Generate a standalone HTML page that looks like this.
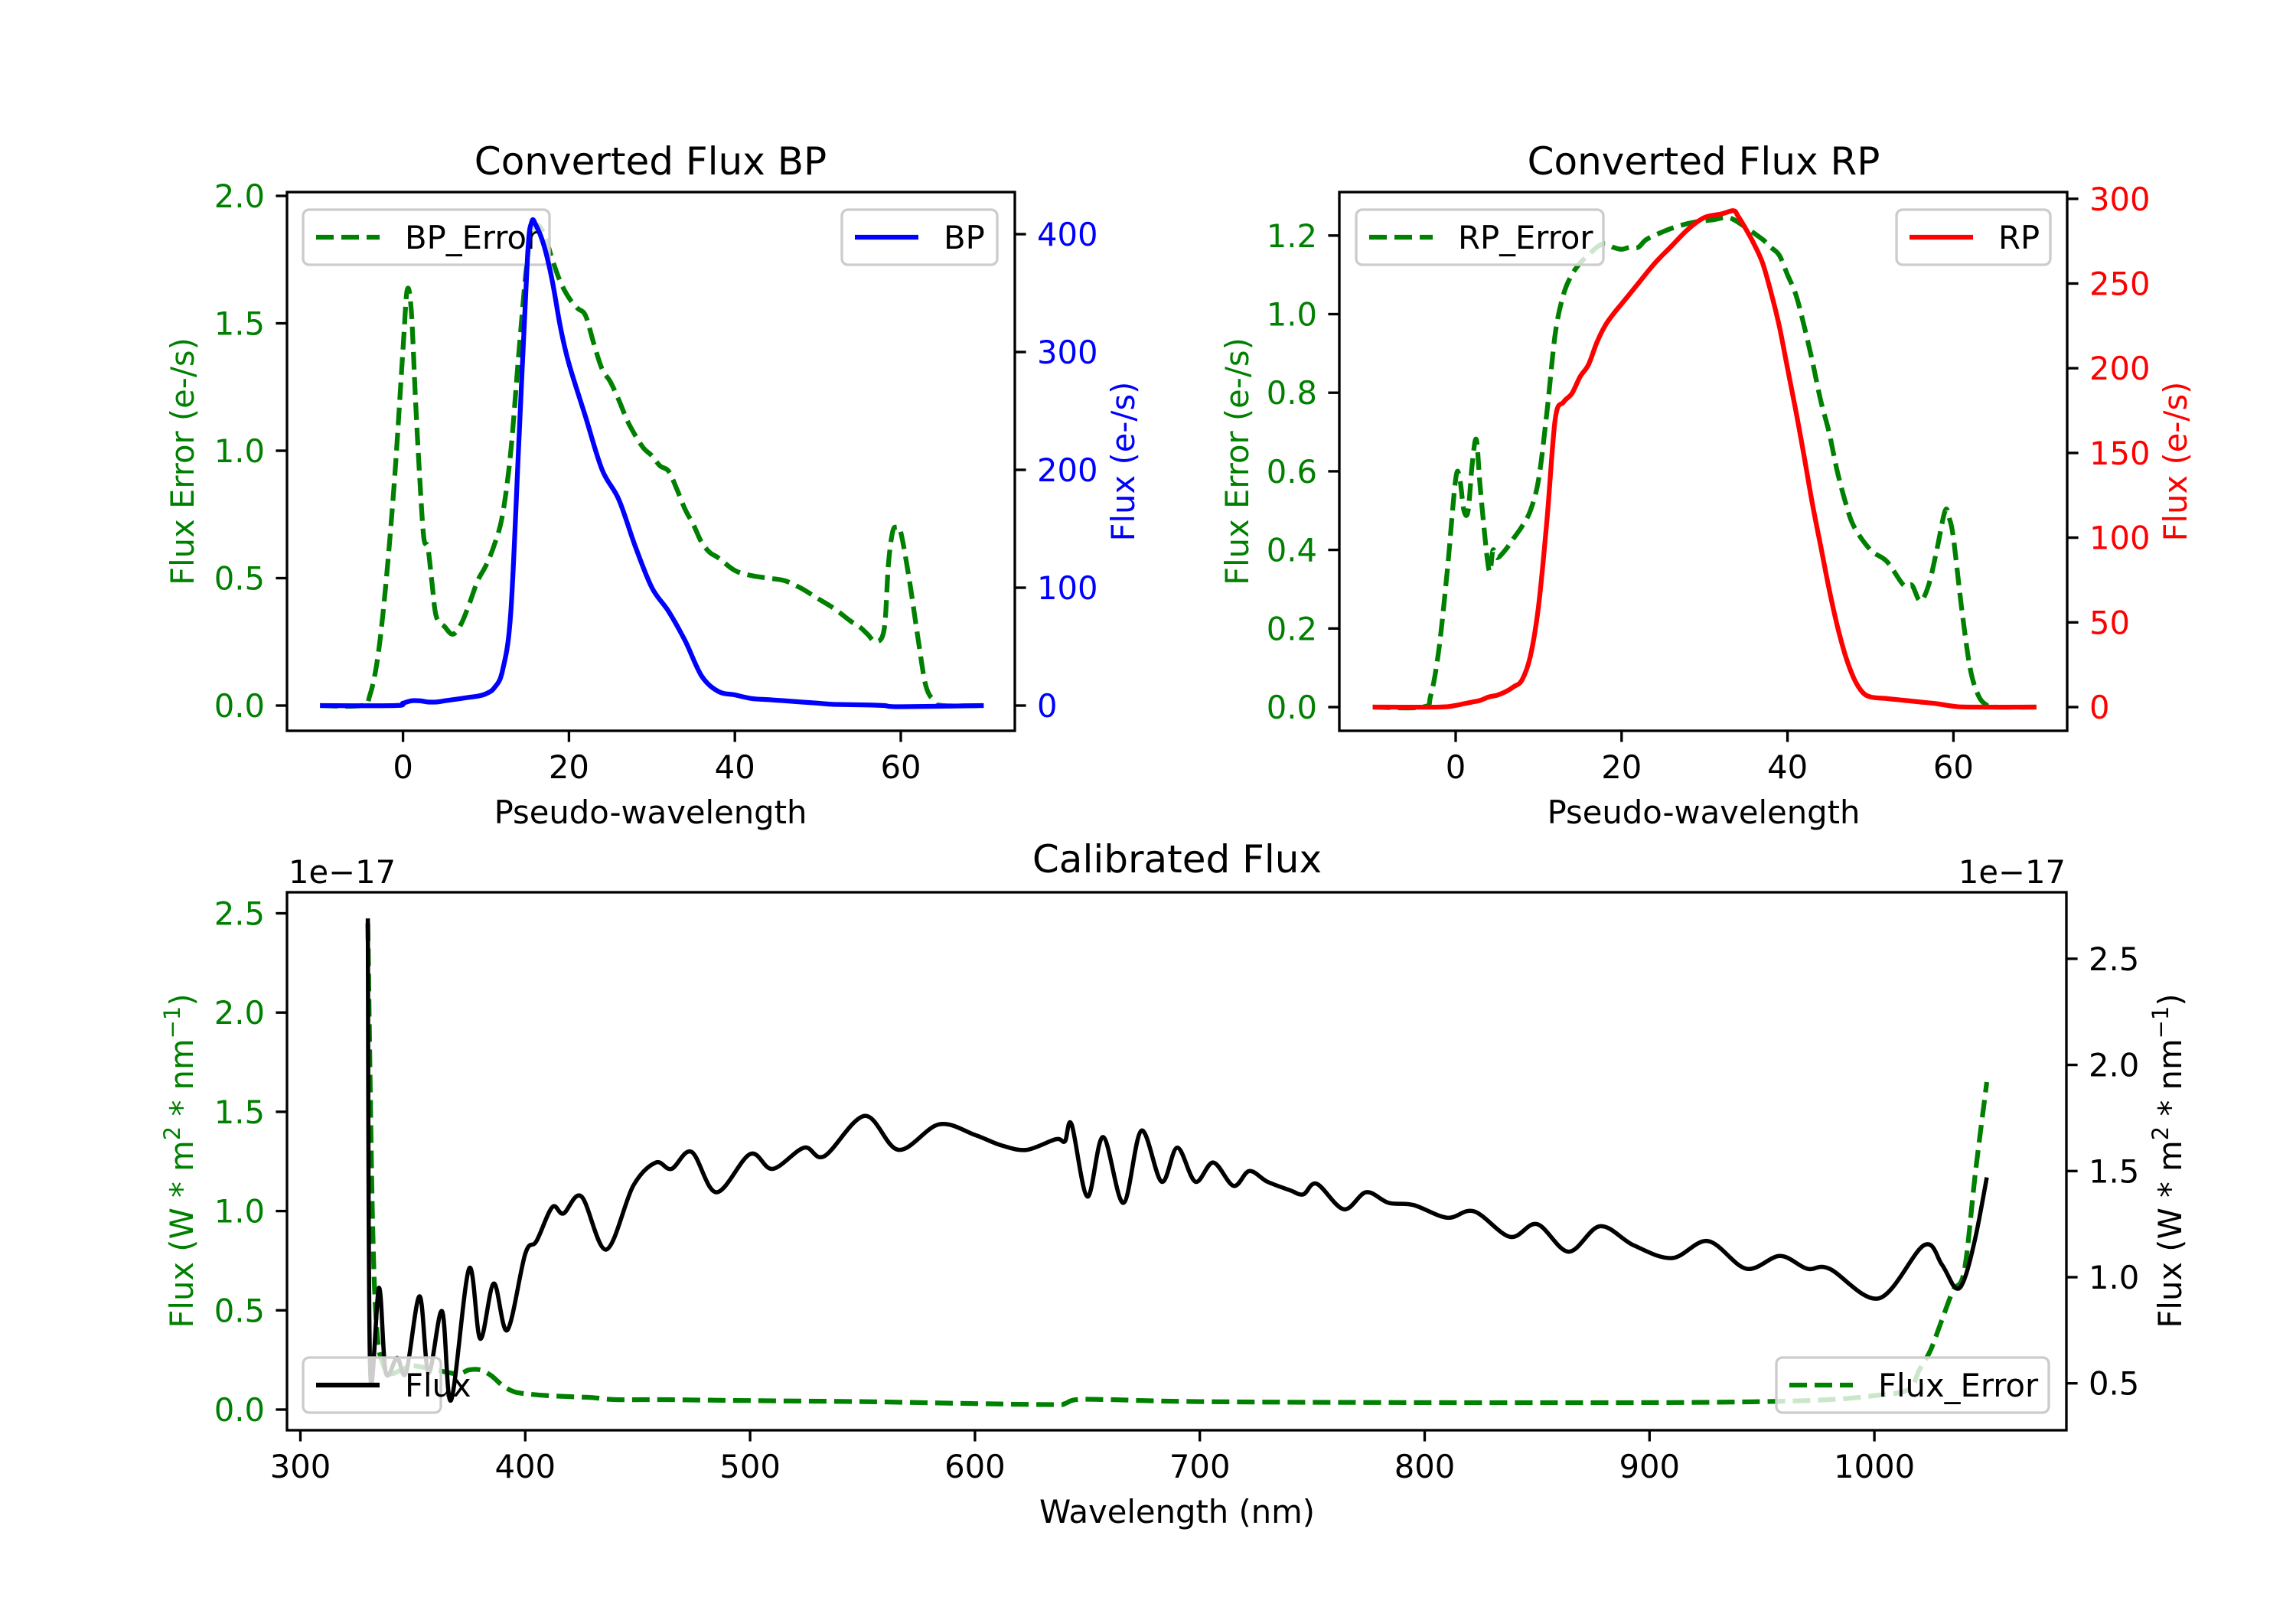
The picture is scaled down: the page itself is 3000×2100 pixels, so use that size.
<!DOCTYPE html>
<html><head><meta charset="utf-8">
<style>
html,body{margin:0;padding:0;background:#fff;}
svg{display:block;font-family:"DejaVu Sans","Liberation Sans",sans-serif;}
</style></head>
<body>
<svg id="fig" width="3000" height="2100" viewBox="0 0 3000 2100" xmlns="http://www.w3.org/2000/svg">
<rect x="0" y="0" width="3000" height="2100" fill="#fff"/>
<defs>
<clipPath id="clipBP"><rect x="375" y="251" width="951" height="704"/></clipPath>
<clipPath id="clipRP"><rect x="1750" y="251" width="951" height="704"/></clipPath>
<clipPath id="clipCal"><rect x="375" y="1166" width="2325" height="703"/></clipPath>
</defs>
<g id="layer"></g>
</svg>
<script>
// ---------- DATA ----------
const bpErrX = [-10,-5,-4,-3,-2,-1,0,0.5,1,1.5,2,2.5,3,3.5,4,5,6,7,8,9,10,11,12,13,14,15,16,17,18,19,20,21,22,23,24,25,26,27,28,29,30,31,32,33,34,35,36,37,38,40,42,44,46,48,50,52,54,55,56,57,58,58.5,59,59.5,60,61,62,63,64,65,70];
const bpErrY = [0,0,0.04,0.2,0.5,0.9,1.4,1.63,1.55,1.2,0.9,0.66,0.62,0.48,0.35,0.31,0.28,0.32,0.4,0.49,0.55,0.63,0.75,1.0,1.4,1.75,1.88,1.85,1.75,1.66,1.6,1.56,1.53,1.42,1.32,1.27,1.2,1.12,1.06,1.01,0.98,0.94,0.92,0.85,0.77,0.71,0.64,0.6,0.58,0.53,0.51,0.5,0.49,0.46,0.42,0.38,0.33,0.31,0.28,0.25,0.3,0.55,0.68,0.7,0.68,0.5,0.28,0.08,0.02,0,0];
const bpX = [-10,-1,0,1,2,3,4,5,6,7,8,9,10,11,12,13,14,15,15.5,16,17,18,19,20,22,24,26,28,30,32,34,36,38,40,42,44,46,48,50,52,56,58,60,70];
const bpY = [0,0,2,4,4,3,3,4,5,6,7,8,10,15,30,80,230,380,410,408,390,360,320,290,245,200,175,135,100,80,55,25,12,9,6,5,4,3,2,1,0.5,0,-1,0];

const rpErrX = [-10,-4,-3,-2,-1,0,0.5,1,1.5,2,2.5,3,4,4.5,5,6,7,8,9,10,11,12,13,14,15,16,17,18,19,20,21,22,23,25,27,29,31,33,35,37,38,39,40,41,42,43,44,45,46,47,48,50,52,54,55,56,57,58,59,59.5,60,61,62,63,64,65,70];
const rpErrY = [0,0,0.03,0.15,0.35,0.58,0.58,0.5,0.5,0.62,0.68,0.55,0.35,0.4,0.38,0.4,0.43,0.46,0.5,0.58,0.75,0.95,1.05,1.1,1.13,1.15,1.17,1.18,1.17,1.165,1.17,1.17,1.19,1.21,1.225,1.235,1.24,1.245,1.22,1.19,1.17,1.15,1.1,1.05,0.97,0.88,0.78,0.7,0.6,0.52,0.46,0.4,0.37,0.31,0.31,0.27,0.31,0.4,0.5,0.48,0.43,0.25,0.1,0.03,0.005,0,0];
const rpX = [-10,-2,0,1,2,3,4,5,6,7,8,9,10,11,12,13,14,15,16,17,18,19,20,22,24,26,28,30,32,33.5,34,35,36,37,38,39,40,41,42,43,44,45,46,47,48,49,50,52,54,56,58,60,62,70];
const rpY = [0,0,1,2,3,4,6,7,9,12,16,30,60,110,170,180,185,195,202,215,225,232,238,250,262,272,282,289,291,293,290,282,273,262,245,225,200,175,148,120,95,70,48,30,17,9,6,5,4,3,2,0.5,0,0];

const calX = [330,331,335,338,343,347,353,357,363,367,375,380,386,392,400,405,412,417,425,436,448,458,465,474,485,500,510,524,533,551,566,584,600,612,623,636,640,643,650,657,666,674,683,690,698,706,715,722,730,740,746,752,764,774,784,795,810,822,838,850,864,878,893,910,926,943,958,970,980,1002,1022,1030,1036,1040,1045,1050];
const calY = [2.69,0.57,0.95,0.55,0.62,0.55,0.91,0.55,0.84,0.42,1.04,0.71,0.97,0.75,1.11,1.17,1.33,1.30,1.38,1.13,1.43,1.54,1.51,1.59,1.40,1.58,1.51,1.61,1.57,1.76,1.60,1.72,1.67,1.62,1.60,1.65,1.64,1.72,1.38,1.66,1.35,1.69,1.45,1.61,1.45,1.54,1.43,1.50,1.45,1.41,1.39,1.44,1.32,1.40,1.35,1.34,1.28,1.31,1.19,1.25,1.12,1.24,1.15,1.09,1.17,1.04,1.10,1.04,1.04,0.90,1.15,1.06,0.95,0.99,1.19,1.47];
const calErrX = [330,332,334,337,340,345,350,360,370,375,380,385,390,395,400,410,420,430,440,460,500,550,600,635,640,645,660,700,800,900,950,980,1000,1015,1020,1025,1030,1035,1040,1045,1050];
const calErrY = [2.45,1.0,0.4,0.22,0.18,0.2,0.22,0.2,0.18,0.2,0.2,0.17,0.12,0.09,0.08,0.07,0.065,0.06,0.05,0.05,0.045,0.04,0.03,0.025,0.03,0.05,0.05,0.04,0.035,0.035,0.04,0.05,0.07,0.1,0.2,0.3,0.45,0.6,0.7,1.2,1.65];

const bpXTicks=[0,20,40,60], bpLTicks=[0,0.5,1.0,1.5,2.0], bpRTicks=[0,100,200,300,400];
const rpXTicks=[0,20,40,60], rpLTicks=[0,0.2,0.4,0.6,0.8,1.0,1.2], rpRTicks=[0,50,100,150,200,250,300];
const calXTicks=[300,400,500,600,700,800,900,1000], calLTicks=[0,0.5,1.0,1.5,2.0,2.5], calRTicks=[0.5,1.0,1.5,2.0,2.5];

// ---------- SCALES ----------
const bpx=v=>526.6+v*10.84, bpyL=v=>922-v*333, bpyR=v=>922-v*1.54;
const rpx=v=>1902+v*10.84, rpyL=v=>924-v*513.5, rpyR=v=>924-v*2.214;
const cx=v=>392.5+(v-300)*2.938, cyL=v=>1842-v*259.4, cyR=v=>1669-(v-1)*277.4;

const NS='http://www.w3.org/2000/svg';
const layer=document.getElementById('layer');
function mk(tag,attrs,parent){const e=document.createElementNS(NS,tag);for(const k in attrs)e.setAttribute(k,attrs[k]);(parent||layer).appendChild(e);return e;}
function txt(s,attrs){const e=mk('text',attrs);e.textContent=s;return e;}
function fmt(v,d){return v.toFixed(d);}

function line(xs,ys,fx,fy,color,w,dash,clip,name){
  const P=xs.map((x,i)=>[fx(x),fy(ys[i])]);
  let d='M'+P[0][0].toFixed(1)+','+P[0][1].toFixed(1);
  const t=0.5/3;
  for(let i=0;i<P.length-1;i++){
    const p0=P[Math.max(0,i-1)],p1=P[i],p2=P[i+1],p3=P[Math.min(P.length-1,i+2)];
    const c1=[p1[0]+(p2[0]-p0[0])*t,p1[1]+(p2[1]-p0[1])*t];
    const c2=[p2[0]-(p3[0]-p1[0])*t,p2[1]-(p3[1]-p1[1])*t];
    d+='C'+c1[0].toFixed(1)+','+c1[1].toFixed(1)+' '+c2[0].toFixed(1)+','+c2[1].toFixed(1)+' '+p2[0].toFixed(1)+','+p2[1].toFixed(1);
  }
  const p=mk('path',{d:d,fill:'none',stroke:color,'stroke-width':w,'stroke-linejoin':'round','clip-path':'url(#'+clip+')'});
  if(dash)p.setAttribute('stroke-dasharray',dash);
  
  
}

function frame(x0,y0,x1,y1,name){
  const r=mk('rect',{x:x0,y:y0,width:x1-x0,height:y1-y0,fill:'none',stroke:'#000','stroke-width':3.33});
  
  
}

function xticks(ticks,fx,yb,dec,name){
  ticks.forEach(t=>{
    const X=fx(t);
    mk('line',{x1:X,y1:yb,x2:X,y2:yb+14.6,stroke:'#000','stroke-width':3.33});
    const e=txt(fmt(t,dec),{x:X,y:yb+62,'font-size':41.7,'text-anchor':'middle',fill:'#000'});
    
    
  });
}
function yticks(ticks,fy,xa,side,dec,color,name){
  ticks.forEach(t=>{
    const Y=fy(t);
    const dx=side==='left'?-14.6:14.6;
    mk('line',{x1:xa,y1:Y,x2:xa+dx,y2:Y,stroke:'#000','stroke-width':3.33});
    const e=txt(fmt(t,dec),{x:side==='left'?xa-29:xa+29,y:Y+15,'font-size':41.7,'text-anchor':side==='left'?'end':'start',fill:color});
    
    
  });
}
function vlabel(s,x,y,color,name){
  const e=txt(s,{x:0,y:0,'font-size':41.7,'text-anchor':'middle',fill:color,transform:'translate('+x+','+y+') rotate(-90)'});
  
  
  return e;
}
function legend(x0,y0,w,label,color,dash,name){
  const g=mk('g',{});
  
  
  mk('rect',{x:x0,y:y0,width:w,height:72,rx:8,fill:'rgba(255,255,255,0.8)',stroke:'#cccccc','stroke-width':3.33},g);
  const l=mk('line',{x1:x0+17,y1:y0+36,x2:x0+100,y2:y0+36,stroke:color,'stroke-width':6.25},g);
  if(dash)l.setAttribute('stroke-dasharray',dash);
  const t=mk('text',{x:x0+133,y:y0+51,'font-size':41.7,fill:'#000'},g);
  t.textContent=label;
}

// ---------- BP ----------
txt('Converted Flux BP',{x:850,y:228,'font-size':50,'text-anchor':'middle',fill:'#000'});
line(bpErrX,bpErrY,bpx,bpyL,'#008000',6.25,'23,10','clipBP','bp-error-line');
legend(396,274,322,'BP_Error','#008000','23,10','bp-error-legend');
line(bpX,bpY,bpx,bpyR,'#0000ff',6.25,null,'clipBP','bp-flux-line');
legend(1100,274,203,'BP','#0000ff',null,'bp-legend');
frame(375,251,1326,955,'bp-axes-frame');
xticks(bpXTicks,bpx,955,0,'bp-x-tick-label');
yticks(bpLTicks,bpyL,375,'left',1,'#008000','bp-left-tick-label');
yticks(bpRTicks,bpyR,1326,'right',0,'#0000ff','bp-right-tick-label');
txt('Pseudo-wavelength',{x:850,y:1076,'font-size':41.7,'text-anchor':'middle',fill:'#000'});
vlabel('Flux Error (e-/s)',253,603,'#008000','bp-left-axis-title');
vlabel('Flux (e-/s)',1482,603,'#0000ff','bp-right-axis-title');

// ---------- RP ----------
txt('Converted Flux RP',{x:2226,y:228,'font-size':50,'text-anchor':'middle',fill:'#000'});
line(rpErrX,rpErrY,rpx,rpyL,'#008000',6.25,'23,10','clipRP','rp-error-line');
legend(1772,274,323,'RP_Error','#008000','23,10','rp-error-legend');
line(rpX,rpY,rpx,rpyR,'#ff0000',6.25,null,'clipRP','rp-flux-line');
legend(2478,274,201,'RP','#ff0000',null,'rp-legend');
frame(1750,251,2701,955,'rp-axes-frame');
xticks(rpXTicks,rpx,955,0,'rp-x-tick-label');
yticks(rpLTicks,rpyL,1750,'left',1,'#008000','rp-left-tick-label');
yticks(rpRTicks,rpyR,2701,'right',0,'#ff0000','rp-right-tick-label');
txt('Pseudo-wavelength',{x:2226,y:1076,'font-size':41.7,'text-anchor':'middle',fill:'#000'});
vlabel('Flux Error (e-/s)',1631,603,'#008000','rp-left-axis-title');
vlabel('Flux (e-/s)',2857,603,'#ff0000','rp-right-axis-title');

// ---------- Calibrated ----------
txt('Calibrated Flux',{x:1538,y:1140,'font-size':50,'text-anchor':'middle',fill:'#000'});
txt('1e\u221217',{x:377,y:1154,'font-size':41.7,fill:'#000'});
txt('1e\u221217',{x:2699,y:1154,'font-size':41.7,'text-anchor':'end',fill:'#000'});
line(calErrX,calErrY,cx,cyL,'#008000',6.25,'23,10','clipCal','cal-error-line');
line(calX,calY,cx,cyR,'#000000',5.5,null,'clipCal','cal-flux-line');
legend(396,1774,180,'Flux','#000000',null,'cal-flux-legend');
legend(2321,1774,356,'Flux_Error','#008000','23,10','cal-error-legend');
frame(375,1166,2700,1869,'cal-axes-frame');
xticks(calXTicks,cx,1869,0,'cal-x-tick-label');
yticks(calLTicks,cyL,375,'left',1,'#008000','cal-left-tick-label');
yticks(calRTicks,cyR,2700,'right',1,'#000','cal-right-tick-label');
txt('Wavelength (nm)',{x:1538,y:1990,'font-size':41.7,'text-anchor':'middle',fill:'#000'});
function supLabel(x,y,color,name){
  const e=mk('text',{x:0,y:0,'font-size':41.7,'text-anchor':'middle',fill:color,transform:'translate('+x+','+y+') rotate(-90)'});
  
  
  const parts=[['Flux (W * m',0],['2',1],[' * nm',0],['\u22121',1],[')',0]];
  parts.forEach(p=>{const t=mk('tspan',{},e);t.textContent=p[0];if(p[1]){t.setAttribute('baseline-shift','super');t.setAttribute('font-size','29');}});
}
supLabel(252,1517,'#008000','cal-left-axis-title');
supLabel(2850,1517,'#000','cal-right-axis-title');
</script>
</body></html>
